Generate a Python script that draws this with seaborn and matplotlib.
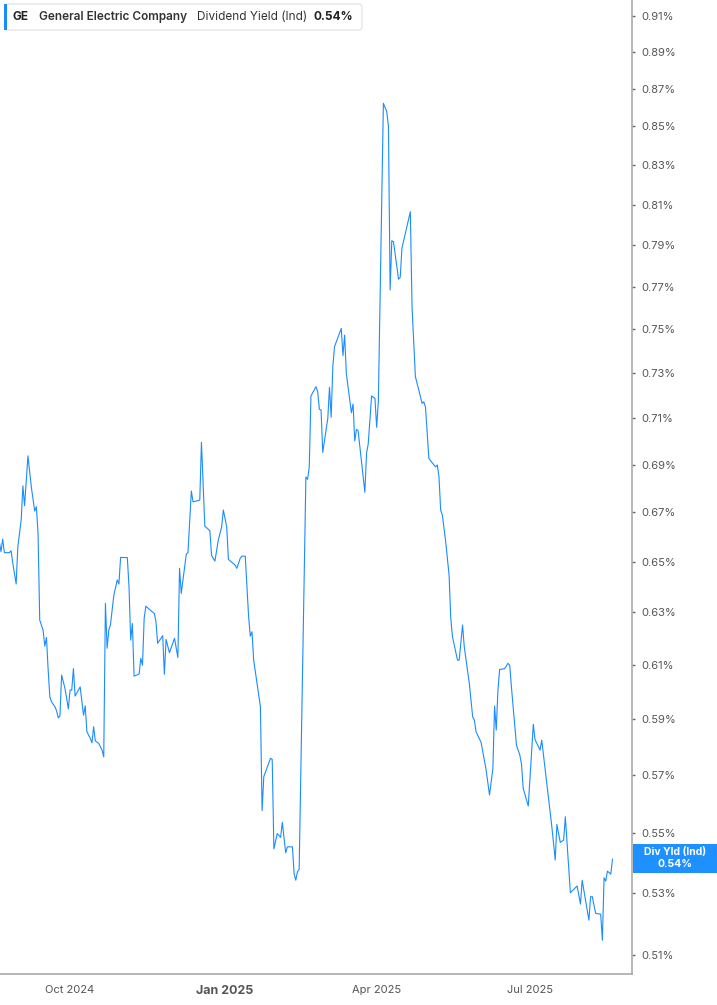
# Import necessary libraries
import matplotlib
matplotlib.use('Agg')
import matplotlib.pyplot as plt
from matplotlib.patches import FancyBboxPatch, Rectangle
import seaborn as sns
import numpy as np
import pandas as pd

# output file
f_out = 'out.png'

# GE dividend yield (Ind), in percent
dates = ['2024-08-20','2024-08-21','2024-08-22','2024-08-23','2024-08-26','2024-08-27','2024-08-28','2024-08-30','2024-08-31',
         '2024-09-02','2024-09-03','2024-09-04','2024-09-06','2024-09-08','2024-09-10','2024-09-11','2024-09-12','2024-09-13',
         '2024-09-15','2024-09-16','2024-09-17','2024-09-18','2024-09-19','2024-09-20','2024-09-22','2024-09-23','2024-09-24',
         '2024-09-25','2024-09-26','2024-09-28','2024-09-30','2024-10-01','2024-10-02','2024-10-03','2024-10-04','2024-10-07',
         '2024-10-09','2024-10-10','2024-10-11','2024-10-13','2024-10-14','2024-10-15','2024-10-16','2024-10-18','2024-10-20',
         '2024-10-21','2024-10-22','2024-10-23','2024-10-24','2024-10-25','2024-10-27','2024-10-29','2024-10-30','2024-10-31',
         '2024-11-04','2024-11-05','2024-11-06','2024-11-07','2024-11-08','2024-11-11','2024-11-12','2024-11-13','2024-11-14',
         '2024-11-15','2024-11-18','2024-11-20','2024-11-21','2024-11-22','2024-11-25','2024-11-26','2024-11-27','2024-11-29',
         '2024-12-02','2024-12-04','2024-12-05','2024-12-06','2024-12-09','2024-12-10','2024-12-12','2024-12-13','2024-12-17',
         '2024-12-18','2024-12-20','2024-12-23','2024-12-24','2024-12-26','2024-12-28','2024-12-30','2024-12-31',
         '2025-01-02','2025-01-03','2025-01-07','2025-01-08','2025-01-10','2025-01-11','2025-01-13','2025-01-15','2025-01-16',
         '2025-01-17','2025-01-18','2025-01-22','2025-01-23','2025-01-24','2025-01-28','2025-01-29','2025-01-30',
         '2025-02-01','2025-02-03','2025-02-04','2025-02-06','2025-02-07','2025-02-10','2025-02-11','2025-02-12','2025-02-13',
         '2025-02-14','2025-02-18','2025-02-19','2025-02-20','2025-02-21','2025-02-24','2025-02-25','2025-02-26','2025-02-27',
         '2025-02-28','2025-03-03','2025-03-04','2025-03-05','2025-03-06','2025-03-07','2025-03-11','2025-03-12','2025-03-13',
         '2025-03-14','2025-03-17','2025-03-18','2025-03-19','2025-03-20','2025-03-21','2025-03-25','2025-03-26','2025-03-27',
         '2025-03-29','2025-03-31','2025-04-01','2025-04-02','2025-04-05','2025-04-07','2025-04-08','2025-04-09','2025-04-10',
         '2025-04-11','2025-04-14','2025-04-15','2025-04-16','2025-04-21','2025-04-22','2025-04-24','2025-04-28','2025-04-29',
         '2025-04-30','2025-05-02','2025-05-05','2025-05-06','2025-05-07','2025-05-08','2025-05-09','2025-05-10','2025-05-12',
         '2025-05-14','2025-05-15','2025-05-16','2025-05-19','2025-05-20','2025-05-22','2025-05-23','2025-05-26','2025-05-28',
         '2025-05-29','2025-05-30','2025-06-02','2025-06-05','2025-06-07','2025-06-09','2025-06-10','2025-06-11','2025-06-12',
         '2025-06-13','2025-06-16','2025-06-18','2025-06-19','2025-06-20','2025-06-23','2025-06-25','2025-06-26','2025-06-27',
         '2025-06-30','2025-07-03','2025-07-04','2025-07-07','2025-07-08','2025-07-11','2025-07-14','2025-07-16','2025-07-17',
         '2025-07-19','2025-07-21','2025-07-22','2025-07-25','2025-07-29','2025-07-31','2025-08-01','2025-08-05','2025-08-06',
         '2025-08-07','2025-08-09','2025-08-12','2025-08-13','2025-08-14','2025-08-15','2025-08-16','2025-08-18','2025-08-19']

div_yield = [0.6580,0.6540,0.6591,0.6536,0.6536,0.6544,0.6494,0.6411,0.6560,
             0.6669,0.6811,0.6728,0.6938,0.6807,0.6706,0.6724,0.6614,0.6270,
             0.6231,0.6170,0.6203,0.6080,0.5980,0.5962,0.5944,0.5929,0.5903,
             0.5910,0.6061,0.6011,0.5936,0.6005,0.6005,0.6085,0.5983,0.6017,
             0.5913,0.5947,0.5853,0.5829,0.5813,0.5871,0.5820,0.5811,0.5787,
             0.5763,0.6335,0.6162,0.6231,0.6253,0.6367,0.6427,0.6411,0.6517,
             0.6516,0.6400,0.6193,0.6257,0.6057,0.6065,0.6124,0.6098,0.6277,
             0.6324,0.6306,0.6296,0.6263,0.6181,0.6210,0.6064,0.6196,0.6145,
             0.6200,0.6127,0.6473,0.6374,0.6530,0.6536,0.6789,0.6744,0.6751,
             0.6996,0.6644,0.6625,0.6525,0.6502,0.6587,0.6641,0.6710,
             0.6641,0.6509,0.6486,0.6473,0.6513,0.6522,0.6522,0.6283,0.6208,
             0.6225,0.6117,0.5944,0.5575,0.5693,0.5758,0.5754,0.5445,
             0.5497,0.5484,0.5535,0.5432,0.5452,0.5452,0.5363,0.5341,0.5369,
             0.5377,0.6848,0.6838,0.6891,0.7199,0.7240,0.7218,0.7140,0.7137,
             0.6953,0.7100,0.7237,0.7105,0.7333,0.7421,0.7505,0.7380,0.7474,
             0.7300,0.7125,0.7163,0.7002,0.7052,0.7046,0.6784,0.6949,0.6989,
             0.7199,0.7188,0.7061,0.7173,0.8622,0.8578,0.8502,0.7685,0.7922,
             0.7917,0.7736,0.7745,0.7885,0.8065,0.7606,0.7285,0.7166,0.7173,
             0.7149,0.6927,0.6899,0.6891,0.6899,0.6849,0.6710,0.6689,0.6580,
             0.6446,0.6277,0.6206,0.6117,0.6117,0.6251,0.6168,0.6030,0.5907,
             0.5895,0.5853,0.5815,0.5716,0.5629,0.5722,0.5946,0.5859,0.6005,
             0.6082,0.6085,0.6105,0.6098,0.6017,0.5805,0.5769,0.5737,0.5652,
             0.5591,0.5880,0.5825,0.5787,0.5823,0.5669,0.5520,0.5408,0.5528,
             0.5467,0.5475,0.5554,0.5300,0.5322,0.5263,0.5341,0.5211,0.5287,
             0.5287,0.5233,0.5230,0.5147,0.5349,0.5338,0.5371,0.5361,0.5411]

y_ticks = [0.51, 0.53, 0.55, 0.57, 0.59, 0.61, 0.63, 0.65, 0.67, 0.69, 0.71,
           0.73, 0.75, 0.77, 0.79, 0.81, 0.83, 0.85, 0.87, 0.89, 0.91]
x_ticks = ['2024-10-01', '2025-01-01', '2025-04-01', '2025-07-01']
x_tick_labels = ['Oct 2024', 'Jan 2025', 'Apr 2025', 'Jul 2025']

ticker = 'GE'
company = 'General Electric Company'
metric = 'Dividend Yield (Ind)'
last_label = 'Div Yld (Ind)'
last_value = '0.54%'

data = pd.DataFrame({'date': pd.to_datetime(dates), 'yield': div_yield})

line_color = '#1a8cff'
sns.set_style('white')
plt.rcParams['font.family'] = ['Inter', 'DejaVu Sans']

W, H = 717, 1005
fig = plt.figure(figsize=(W / 100, H / 100), dpi=100)
ax = fig.add_axes([0, 1 - 974 / H, 632 / W, 974 / H])

sns.lineplot(data=data, x='date', y='yield', ax=ax, color=line_color, linewidth=0.8,
             estimator=None, sort=False)

# log price-style scale on the right
ax.set_yscale('log')
ax.set_ylim(0.5041, 0.9189)
ax.set_xlim(pd.Timestamp('2024-08-20 10:00'), pd.Timestamp('2025-08-30 14:00'))

ax.yaxis.set_major_locator(plt.FixedLocator(y_ticks))
ax.yaxis.set_minor_locator(plt.NullLocator())
ax.set_yticklabels([f'{v:.2f}%' for v in y_ticks])
ax.yaxis.tick_right()
ax.tick_params(axis='y', direction='out', length=2.5, width=1, color='#666666',
               labelsize=8, labelcolor='#555555', pad=4)

ax.set_xticks(pd.to_datetime(x_ticks))
ax.set_xticklabels(x_tick_labels)
ax.tick_params(axis='x', direction='out', length=2.5, width=1, color='#aaaaaa',
               labelsize=8, labelcolor='#555555', pad=5.5)
for lab in ax.get_xticklabels():
    if lab.get_text().startswith('Jan'):
        lab.set_fontsize(9)
        lab.set_fontweight('bold')
ax.set_xlabel('')
ax.set_ylabel('')

for s in ['top', 'left']:
    ax.spines[s].set_visible(False)
for s in ['bottom', 'right']:
    ax.spines[s].set_color('#aaaaaa')
    ax.spines[s].set_linewidth(1.2)

# helpers: pixel -> figure fraction
def fx(p):
    return p / W

def fy(p):
    return 1 - p / H

# legend box top-left
box = FancyBboxPatch((fx(5), fy(30)), fx(357), 26 / H, boxstyle='round,pad=0,rounding_size=0.004',
                     transform=fig.transFigure, facecolor='white', edgecolor='#e6e6e6', linewidth=1)
fig.patches.append(box)
fig.patches.append(Rectangle((fx(4), fy(30)), fx(3), 26 / H, transform=fig.transFigure,
                             facecolor=line_color, edgecolor='none'))
fig.text(fx(13), fy(17), ticker, fontsize=8.5, fontweight='bold', color='#222222', va='center')
fig.text(fx(39), fy(17), company, fontsize=8.5, fontweight='semibold', color='#333333', va='center')
fig.text(fx(197), fy(17), metric, fontsize=8.5, color='#333333', va='center')
fig.text(fx(314), fy(17), last_value, fontsize=8.5, fontweight='bold', color='#222222', va='center')

# last value tag on the right axis
fig.patches.append(Rectangle((fx(633), fy(873)), fx(84), 29 / H, transform=fig.transFigure,
                             facecolor='#1e90ff', edgecolor='none'))
fig.text(fx(675), fy(852), last_label, fontsize=7.5, fontweight='bold', color='white', ha='center', va='center')
fig.text(fx(675), fy(864), last_value, fontsize=7.5, fontweight='bold', color='white', ha='center', va='center')

plt.savefig(f_out, dpi=100)
